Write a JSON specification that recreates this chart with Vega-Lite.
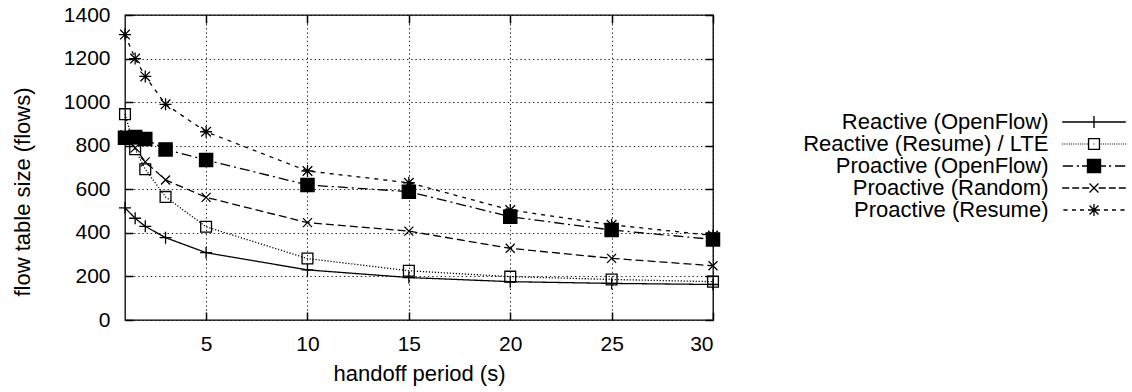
{
  "$schema": "https://vega.github.io/schema/vega-lite/v6.json",
  "width": 588,
  "height": 305,
  "autosize": {"type": "none"},
  "padding": {"left": 125, "top": 15, "right": 419, "bottom": 72},
  "background": "white",
  "config": {
    "view": {"stroke": "black", "strokeWidth": 1.3},
    "font": "Liberation Sans",
    "axis": {
      "labelFont": "Liberation Sans",
      "titleFont": "Liberation Sans",
      "labelFontSize": 21,
      "titleFontSize": 22,
      "titleFontWeight": "normal",
      "labelColor": "black",
      "titleColor": "black",
      "ticks": true,
      "tickColor": "black",
      "tickOpacity": 1,
      "tickWidth": 1.5,
      "domain": false,
      "gridColor": "black",
      "gridOpacity": 0.8,
      "gridWidth": 1,
      "gridDash": [1.5, 2.7]
    },
    "legend": {
      "labelFont": "Liberation Sans",
      "labelFontSize": 22,
      "labelColor": "black"
    }
  },
  "data": {
    "values": [
      {"x": 1, "y": 515, "series": "Reactive (OpenFlow)"},
      {"x": 1.5, "y": 467, "series": "Reactive (OpenFlow)"},
      {"x": 2, "y": 430, "series": "Reactive (OpenFlow)"},
      {"x": 3, "y": 378, "series": "Reactive (OpenFlow)"},
      {"x": 5, "y": 309, "series": "Reactive (OpenFlow)"},
      {"x": 10, "y": 230, "series": "Reactive (OpenFlow)"},
      {"x": 15, "y": 195, "series": "Reactive (OpenFlow)"},
      {"x": 20, "y": 176, "series": "Reactive (OpenFlow)"},
      {"x": 25, "y": 168, "series": "Reactive (OpenFlow)"},
      {"x": 30, "y": 163, "series": "Reactive (OpenFlow)"},
      {"x": 1, "y": 945, "series": "Reactive (Resume) / LTE"},
      {"x": 1.5, "y": 784, "series": "Reactive (Resume) / LTE"},
      {"x": 2, "y": 692, "series": "Reactive (Resume) / LTE"},
      {"x": 3, "y": 565, "series": "Reactive (Resume) / LTE"},
      {"x": 5, "y": 428, "series": "Reactive (Resume) / LTE"},
      {"x": 10, "y": 282, "series": "Reactive (Resume) / LTE"},
      {"x": 15, "y": 226, "series": "Reactive (Resume) / LTE"},
      {"x": 20, "y": 199, "series": "Reactive (Resume) / LTE"},
      {"x": 25, "y": 186, "series": "Reactive (Resume) / LTE"},
      {"x": 30, "y": 176, "series": "Reactive (Resume) / LTE"},
      {"x": 1, "y": 836, "series": "Proactive (OpenFlow)"},
      {"x": 1.5, "y": 840, "series": "Proactive (OpenFlow)"},
      {"x": 2, "y": 831, "series": "Proactive (OpenFlow)"},
      {"x": 3, "y": 783, "series": "Proactive (OpenFlow)"},
      {"x": 5, "y": 734, "series": "Proactive (OpenFlow)"},
      {"x": 10, "y": 620, "series": "Proactive (OpenFlow)"},
      {"x": 15, "y": 589, "series": "Proactive (OpenFlow)"},
      {"x": 20, "y": 474, "series": "Proactive (OpenFlow)"},
      {"x": 25, "y": 413, "series": "Proactive (OpenFlow)"},
      {"x": 30, "y": 370, "series": "Proactive (OpenFlow)"},
      {"x": 1, "y": 850, "series": "Proactive (Random)"},
      {"x": 1.5, "y": 790, "series": "Proactive (Random)"},
      {"x": 2, "y": 726, "series": "Proactive (Random)"},
      {"x": 3, "y": 643, "series": "Proactive (Random)"},
      {"x": 5, "y": 563, "series": "Proactive (Random)"},
      {"x": 10, "y": 447, "series": "Proactive (Random)"},
      {"x": 15, "y": 408, "series": "Proactive (Random)"},
      {"x": 20, "y": 329, "series": "Proactive (Random)"},
      {"x": 25, "y": 283, "series": "Proactive (Random)"},
      {"x": 30, "y": 249, "series": "Proactive (Random)"},
      {"x": 1, "y": 1310, "series": "Proactive (Resume)"},
      {"x": 1.5, "y": 1200, "series": "Proactive (Resume)"},
      {"x": 2, "y": 1118, "series": "Proactive (Resume)"},
      {"x": 3, "y": 990, "series": "Proactive (Resume)"},
      {"x": 5, "y": 864, "series": "Proactive (Resume)"},
      {"x": 10, "y": 684, "series": "Proactive (Resume)"},
      {"x": 15, "y": 630, "series": "Proactive (Resume)"},
      {"x": 20, "y": 505, "series": "Proactive (Resume)"},
      {"x": 25, "y": 437, "series": "Proactive (Resume)"},
      {"x": 30, "y": 388, "series": "Proactive (Resume)"}
    ]
  },
  "resolve": {
    "scale": {"shape": "independent"},
    "axis": {"x": "independent", "y": "independent"}
  },
  "layer": [
    {
      "mark": {"type": "line", "color": "black", "strokeWidth": 1.3},
      "encoding": {
        "x": {
          "field": "x", "type": "quantitative",
          "scale": {"domain": [1, 30], "nice": false, "zero": false},
          "axis": {
            "orient": "bottom",
            "values": [5, 10, 15, 20, 25, 30],
            "format": "d",
            "title": "handoff period (s)",
            "tickSize": 0,
            "labelPadding": 13.5,
            "titleBaseline": "alphabetic",
            "titleY": 60,
            "grid": true
          }
        },
        "y": {
          "field": "y", "type": "quantitative",
          "scale": {"domain": [0, 1400], "nice": false},
          "axis": {
            "orient": "left",
            "values": [0, 200, 400, 600, 800, 1000, 1200, 1400],
            "format": "d",
            "title": "flow table size (flows)",
            "tickSize": 0,
            "labelPadding": 15,
            "titleX": -103,
            "titleY": 176.5,
            "titleBaseline": "middle",
            "grid": true
          }
        },
        "strokeDash": {
          "field": "series", "type": "nominal",
          "scale": {
            "domain": ["Reactive (OpenFlow)", "Reactive (Resume) / LTE", "Proactive (OpenFlow)", "Proactive (Random)", "Proactive (Resume)"],
            "range": [[1, 0], [1.2, 1.8], [10, 4, 2, 4], [8, 4], [4, 5]]
          },
          "legend": null
        }
      }
    },
    {
      "mark": {"type": "point", "filled": false, "stroke": "black", "strokeWidth": 1.3, "size": 144, "opacity": 1},
      "encoding": {
        "x": {
          "field": "x", "type": "quantitative",
          "axis": {"orient": "top", "values": [5, 10, 15, 20, 25, 30], "offset": -8, "tickSize": 8, "labels": false, "title": null, "grid": false}
        },
        "y": {
          "field": "y", "type": "quantitative",
          "axis": {"orient": "right", "values": [0, 200, 400, 600, 800, 1000, 1200, 1400], "offset": -8, "tickSize": 8, "labels": false, "title": null, "grid": false}
        },
        "shape": {
          "field": "series", "type": "nominal",
          "scale": {
            "domain": ["Reactive (OpenFlow)", "Reactive (Resume) / LTE", "Proactive (OpenFlow)", "Proactive (Random)", "Proactive (Resume)"],
            "range": [
              "M-1,0H1M0,-1V1",
              "M-0.9,-0.9H0.9V0.9H-0.9Z",
              "M-1.1,-1.1H1.1V1.1H-1.1Z",
              "M-0.75,-0.75L0.75,0.75M-0.75,0.75L0.75,-0.75",
              "M-1,0H1M0,-1V1M-0.8,-0.8L0.8,0.8M-0.8,0.8L0.8,-0.8"
            ]
          },
          "legend": null
        },
        "fill": {
          "condition": {"test": "datum.series === 'Proactive (OpenFlow)'", "value": "black"},
          "value": "transparent"
        }
      }
    },
    {
      "transform": [{"filter": "datum.x < 0"}],
      "mark": {"type": "point", "filled": true, "fill": "black", "strokeWidth": 0, "size": 144, "opacity": 1},
      "encoding": {
        "x": {
          "field": "x", "type": "quantitative",
          "axis": {"orient": "bottom", "values": [5, 10, 15, 20, 25, 30], "offset": -8, "tickSize": 8, "labels": false, "title": null, "grid": false}
        },
        "y": {
          "field": "y", "type": "quantitative",
          "axis": {"orient": "left", "values": [0, 200, 400, 600, 800, 1000, 1200, 1400], "offset": -8, "tickSize": 8, "labels": false, "title": null, "grid": false}
        },
        "shape": {
          "field": "series", "type": "nominal",
          "scale": {
            "domain": ["Reactive (OpenFlow)", "Reactive (Resume) / LTE", "Proactive (OpenFlow)", "Proactive (Random)", "Proactive (Resume)"],
            "range": [
              "M-52,0M-5.3,-0.11H5.3V0.11H-5.3ZM-0.11,-1H0.11V1H-0.11Z",
              "M-52,0M-5.3,-0.09H-5.13V0.09H-5.3ZM-4.93,-0.09H-4.76V0.09H-4.93ZM-4.56,-0.09H-4.39V0.09H-4.56ZM-4.19,-0.09H-4.02V0.09H-4.19ZM-3.82,-0.09H-3.65V0.09H-3.82ZM-3.45,-0.09H-3.28V0.09H-3.45ZM-3.08,-0.09H-2.91V0.09H-3.08ZM-2.71,-0.09H-2.54V0.09H-2.71ZM-2.34,-0.09H-2.17V0.09H-2.34ZM-1.97,-0.09H-1.8V0.09H-1.97ZM-1.6,-0.09H-1.43V0.09H-1.6ZM-1.23,-0.09H-1.06V0.09H-1.23ZM1.13,-0.09H1.3V0.09H1.13ZM1.5,-0.09H1.67V0.09H1.5ZM1.87,-0.09H2.04V0.09H1.87ZM2.24,-0.09H2.41V0.09H2.24ZM2.61,-0.09H2.78V0.09H2.61ZM2.98,-0.09H3.15V0.09H2.98ZM3.35,-0.09H3.52V0.09H3.35ZM3.72,-0.09H3.89V0.09H3.72ZM4.09,-0.09H4.26V0.09H4.09ZM4.46,-0.09H4.63V0.09H4.46ZM4.83,-0.09H5V0.09H4.83ZM5.2,-0.09H5.37V0.09H5.2ZM-1.02,-1.02H1.02V1.02H-1.02ZM-0.8,-0.8V0.8H0.8V-0.8ZM-0.09,-0.09H0.09V0.09H-0.09Z",
              "M-52,0M-5.2,-0.11H-3.5V0.11H-5.2ZM-2.85,-0.11H-2.5V0.11H-2.85ZM-2,-0.11H2V0.11H-2ZM2.5,-0.11H2.85V0.11H2.5ZM3.5,-0.11H5.2V0.11H3.5ZM-1.2,-1.2H1.2V1.2H-1.2Z",
              "M-52,0M-5.3,-0.11H-4.13V0.11H-5.3ZM-3.63,-0.11H-2.47V0.11H-3.63ZM-1.97,-0.11H-0.8V0.11H-1.97ZM0.8,-0.11H1.97V0.11H0.8ZM2.47,-0.11H3.63V0.11H2.47ZM4.13,-0.11H5.3V0.11H4.13ZM-0.67,-0.83L0.83,0.67L0.67,0.83L-0.83,-0.67ZM-0.67,0.83L-0.83,0.67L0.67,-0.83L0.83,-0.67Z",
              "M-52,0M-5.1,-0.11H-4.4V0.11H-5.1ZM-3.67,-0.11H-3V0.11H-3.67ZM-2.33,-0.11H-1.67V0.11H-2.33ZM1.67,-0.11H2.33V0.11H1.67ZM3,-0.11H3.67V0.11H3ZM4.4,-0.11H5.1V0.11H4.4ZM-1,-0.11H1V0.11H-1ZM-0.11,-1H0.11V1H-0.11ZM-0.67,-0.83L0.83,0.67L0.67,0.83L-0.83,-0.67ZM-0.67,0.83L-0.83,0.67L0.67,-0.83L0.83,-0.67Z"
            ]
          },
          "legend": {
            "orient": "none",
            "legendX": 958,
            "legendY": 96,
            "title": null,
            "padding": 0,
            "labelAlign": "right",
            "labelOffset": -56.5,
            "labelLimit": 500,
            "symbolSize": 144,
            "symbolFillColor": "black",
            "symbolStrokeWidth": 0,
            "symbolOpacity": 1,
            "rowPadding": 0
          }
        }
      }
    }
  ]
}
